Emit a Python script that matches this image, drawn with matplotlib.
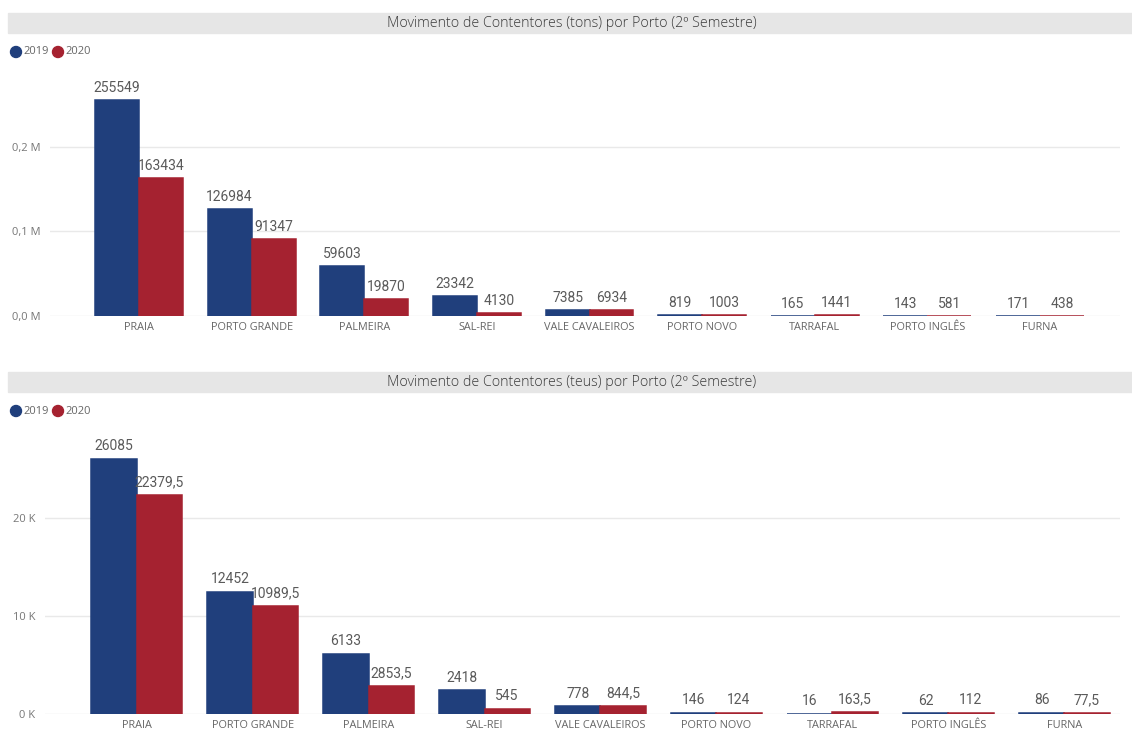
import numpy as np
import matplotlib
matplotlib.use("Agg")
import matplotlib.pyplot as plt
from matplotlib.patches import Rectangle, Ellipse

portos = ['PRAIA', 'PORTO GRANDE', 'PALMEIRA', 'SAL-REI', 'VALE CAVALEIROS',
          'PORTO NOVO', 'TARRAFAL', 'PORTO INGLÊS', 'FURNA']
tons_2019 = [255549, 126984, 59603, 23342, 7385, 819, 165, 143, 171]
tons_2020 = [163434, 91347, 19870, 4130, 6934, 1003, 1441, 581, 438]
teus_2019 = [26085, 12452, 6133, 2418, 778, 146, 16, 62, 86]
teus_2020 = [22379.5, 10989.5, 2853.5, 545, 844.5, 124, 163.5, 112, 77.5]
anos = ['2019', '2020']

tons_ticks = [0, 100000, 200000]
tons_ticklabels = ['0,0 M', '0,1 M', '0,2 M']
teus_ticks = [0, 10000, 20000]
teus_ticklabels = ['0 K', '10 K', '20 K']

blue = '#203f7c'
red = '#a52230'
txt = '#666666'

plt.rcParams['font.family'] = ['Open Sans', 'DejaVu Sans']

W, H = 1132, 733
fig = plt.figure(figsize=(W / 100, H / 100), dpi=100)


def fmt(v):
    return ('%g' % v).replace('.', ',')


def panel(rect, title, title_y, legend_y, v19, v20, ticks, ticklabels, ymax, xlim):
    # barra do titulo
    fig.patches.append(Rectangle((8 / W, 1 - (title_y + 20) / H), 1 - 8 / W, 20 / H,
                                 transform=fig.transFigure, color='#e6e6e6', zorder=0))
    fig.text(0.5 + 6 / W, 1 - (title_y + 10.5) / H, title, ha='center', va='center',
             fontsize=10.3, color='#3a3a3a', fontweight='light')
    # legenda
    for i, (lab, c) in enumerate(zip(anos, [blue, red])):
        x0 = 16 + i * 42
        fig.add_artist(Ellipse((x0 / W, 1 - legend_y / H), 11 / W, 11 / H,
                               transform=fig.transFigure, color=c))
        fig.text((x0 + 7) / W, 1 - legend_y / H, lab, ha='left', va='center',
                 fontsize=8, color=txt)

    ax = fig.add_axes(rect)
    x = np.arange(len(portos))
    w = 0.39
    ax.bar(x - w / 2, v19, w, color=blue, edgecolor=blue, linewidth=1.1, zorder=3)
    ax.bar(x + w / 2, v20, w, color=red, edgecolor=red, linewidth=1.1, zorder=3)
    off = ymax * 0.02
    for xi, a, b in zip(x, v19, v20):
        ax.text(xi - w / 2, a + off, fmt(a), ha='center', va='bottom',
                fontsize=10, color='#5a5a5a', family='Roboto')
        ax.text(xi + w / 2, b + off, fmt(b), ha='center', va='bottom',
                fontsize=10, color='#5a5a5a', family='Roboto')
    ax.set_xlim(*xlim)
    ax.set_ylim(0, ymax)
    ax.set_xticks(x)
    ax.set_xticklabels(portos, fontsize=7.8, color=txt)
    ax.set_yticks(ticks)
    ax.set_yticklabels(ticklabels, fontsize=8, color='#777777')
    ax.tick_params(length=0, pad=4)
    ax.tick_params(axis='y', pad=7)
    ax.grid(axis='y', color='#e9e9e9', linewidth=1, zorder=0)
    for s in ax.spines.values():
        s.set_visible(False)
    return ax


panel([50 / W, (H - 316) / H, 1070 / W, 246 / H],
      'Movimento de Contentores (tons) por Porto (2º Semestre)', 13, 52,
      tons_2019, tons_2020, tons_ticks, tons_ticklabels, 291000, (-0.79, 8.71))
panel([45 / W, (H - 714) / H, 1075 / W, 284 / H],
      'Movimento de Contentores (teus) por Porto (2º Semestre)', 372, 411,
      teus_2019, teus_2020, teus_ticks, teus_ticklabels, 29000, (-0.79, 8.48))

fig.savefig('out.png', dpi=100)
